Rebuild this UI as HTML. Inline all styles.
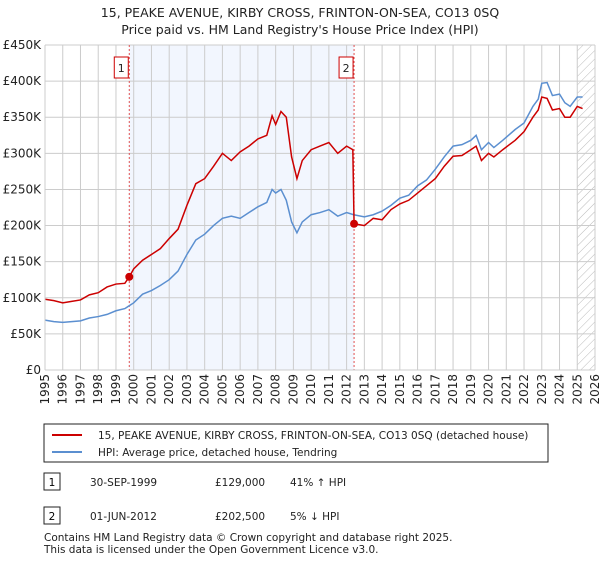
<!DOCTYPE html>
<html><head><meta charset="utf-8"><style>
body{margin:0;background:#fff;font-family:"DejaVu Sans","Liberation Sans",sans-serif;}
svg text{font-family:"DejaVu Sans","Liberation Sans",sans-serif;}
</style></head><body>
<svg id="c" width="600" height="560" xmlns="http://www.w3.org/2000/svg">
<defs><pattern id="hatch" width="6" height="6" patternUnits="userSpaceOnUse" patternTransform="rotate(45)"><line x1="0" y1="0" x2="0" y2="6" stroke="#bbb" stroke-width="1"/></pattern></defs>
<text x="300" y="17" text-anchor="middle" font-size="12.5" fill="#222">15, PEAKE AVENUE, KIRBY CROSS, FRINTON-ON-SEA, CO13 0SQ</text>
<text x="300" y="34" text-anchor="middle" font-size="12.5" fill="#222">Price paid vs. HM Land Registry's House Price Index (HPI)</text>
<g id="plot"></g>
<g>
<rect x="44" y="424" width="504" height="38" fill="#fff" stroke="#222"/>
<line x1="52" y1="435" x2="82" y2="435" stroke="#cc0000" stroke-width="2"/>
<text x="98" y="439" font-size="10.5" fill="#222">15, PEAKE AVENUE, KIRBY CROSS, FRINTON-ON-SEA, CO13 0SQ (detached house)</text>
<line x1="52" y1="452" x2="82" y2="452" stroke="#5b8fd0" stroke-width="2"/>
<text x="98" y="456" font-size="10.5" fill="#222">HPI: Average price, detached house, Tendring</text>
</g>
<g>
<rect x="44" y="473" width="16" height="17" fill="#fff" stroke="#222"/><text x="52" y="486" font-size="10.5" text-anchor="middle">1</text>
<text x="90" y="486" font-size="10.5" fill="#222">30-SEP-1999</text><text x="215" y="486" font-size="10.5" fill="#222">£129,000</text><text x="290" y="486" font-size="10.5" fill="#222">41% ↑ HPI</text>
<rect x="44" y="507" width="16" height="17" fill="#fff" stroke="#222"/><text x="52" y="520" font-size="10.5" text-anchor="middle">2</text>
<text x="90" y="520" font-size="10.5" fill="#222">01-JUN-2012</text><text x="215" y="520" font-size="10.5" fill="#222">£202,500</text><text x="290" y="520" font-size="10.5" fill="#222">5% ↓ HPI</text>
</g>
<text x="44" y="541" font-size="10.5" fill="#222">Contains HM Land Registry data © Crown copyright and database right 2025.</text>
<text x="44" y="553" font-size="10.5" fill="#222">This data is licensed under the Open Government Licence v3.0.</text>
</svg>
<script>
const yTicks=[0,50000,100000,150000,200000,250000,300000,350000,400000,450000];
const yTickLabels=["£0","£50K","£100K","£150K","£200K","£250K","£300K","£350K","£400K","£450K"];
const xYears=[1995,1996,1997,1998,1999,2000,2001,2002,2003,2004,2005,2006,2007,2008,2009,2010,2011,2012,2013,2014,2015,2016,2017,2018,2019,2020,2021,2022,2023,2024,2025,2026];
const hpiT=[1995,1995.5,1996,1996.5,1997,1997.5,1998,1998.5,1999,1999.5,2000,2000.5,2001,2001.5,2002,2002.5,2003,2003.5,2004,2004.5,2005,2005.5,2006,2006.5,2007,2007.5,2007.8,2008,2008.3,2008.6,2008.9,2009.2,2009.5,2010,2010.5,2011,2011.5,2012,2012.4,2013,2013.5,2014,2014.5,2015,2015.5,2016,2016.5,2017,2017.5,2018,2018.5,2019,2019.3,2019.6,2020,2020.3,2020.8,2021.5,2022,2022.5,2022.8,2023,2023.3,2023.6,2024,2024.3,2024.6,2025,2025.3];
const hpiV=[69,67,66,67,68,72,74,77,82,85,93,105,110,117,125,137,160,180,188,200,210,213,210,218,226,232,250,245,250,235,205,190,205,215,218,222,213,218,215,212,215,220,228,238,242,255,263,278,295,310,312,318,325,305,315,308,318,333,342,365,375,397,398,380,382,370,365,378,378];
const priceT=[1995,1995.5,1996,1996.5,1997,1997.5,1998,1998.5,1999,1999.5,1999.75,2000,2000.5,2001,2001.5,2002,2002.5,2003,2003.5,2004,2004.5,2005,2005.5,2006,2006.5,2007,2007.5,2007.8,2008,2008.3,2008.6,2008.9,2009.2,2009.5,2010,2010.5,2011,2011.5,2012,2012.35,2012.42,2013,2013.5,2014,2014.5,2015,2015.5,2016,2016.5,2017,2017.5,2018,2018.5,2019,2019.3,2019.6,2020,2020.3,2020.8,2021.5,2022,2022.5,2022.8,2023,2023.3,2023.6,2024,2024.3,2024.6,2025,2025.3];
const priceV=[98,96,93,95,97,104,107,115,119,120,129,140,152,160,168,182,195,228,258,265,282,300,290,302,310,320,325,352,340,358,350,295,265,290,305,310,315,300,310,305,202.5,200,210,208,222,230,235,245,255,265,282,296,297,305,310,290,300,295,305,318,330,350,360,378,376,360,362,350,350,365,362];
const saleT=[1999.75,2012.42];
const saleV=[129000,202500];
const saleLabels=["1","2"];

const L=45,R=595,T=45,B=370,x0=1995,x1=2026,yMax=450000;
const X=t=>L+(t-x0)/(x1-x0)*(R-L);
const Y=v=>B-v/yMax*(B-T);
const NS="http://www.w3.org/2000/svg";
const g=document.getElementById('plot');
function mk(tag,attrs,parent){const e=document.createElementNS(NS,tag);for(const k in attrs)e.setAttribute(k,attrs[k]);(parent||g).appendChild(e);return e;}
let e;
e=mk('rect',{x:X(saleT[0]),y:T,width:X(saleT[1])-X(saleT[0]),height:B-T,fill:'#f2f6fe'});


e=mk('rect',{x:X(2025),y:T,width:R-X(2025),height:B-T,fill:'url(#hatch)'});


xYears.forEach(yr=>{
 e=mk('line',{x1:X(yr),x2:X(yr),y1:T,y2:B,stroke:'#ccc','stroke-width':1});
 
 
 e=mk('text',{x:0,y:0,'font-size':12,fill:'#222','text-anchor':'end',transform:`translate(${X(yr)+4},${B+4}) rotate(-90)`});
 e.textContent=yr;
 
 
});
yTicks.forEach((v,i)=>{
 e=mk('line',{x1:L,x2:R,y1:Y(v),y2:Y(v),stroke:'#ccc','stroke-width':1});
 
 
 e=mk('text',{x:L-4,y:Y(v)+4,'font-size':12,fill:'#222','text-anchor':'end'});
 e.textContent=yTickLabels[i];
 
 
});
saleT.forEach((t,i)=>{
 e=mk('line',{x1:X(t),x2:X(t),y1:T,y2:B,stroke:'#e05050','stroke-width':1,'stroke-dasharray':'2,2'});
 
 
 e=mk('rect',{x:X(t)-15,y:T+12,width:14,height:21,fill:'#fff',stroke:'#cc0000'});
 
 
 e=mk('text',{x:X(t)-8,y:T+27,'font-size':11,'text-anchor':'middle',fill:'#222'});
 e.textContent=saleLabels[i];
 
 
});
e=mk('polyline',{points:hpiT.map((t,i)=>X(t)+','+Y(hpiV[i]*1000)).join(' '),fill:'none',stroke:'#5b8fd0','stroke-width':1.5});


e=mk('polyline',{points:priceT.map((t,i)=>X(t)+','+Y(priceV[i]*1000)).join(' '),fill:'none',stroke:'#cc0000','stroke-width':1.5});


saleT.forEach((t,i)=>{
 e=mk('circle',{cx:X(t),cy:Y(saleV[i]),r:4,fill:'#cc0000'});
 
 
});
e=mk('line',{x1:L,x2:L,y1:T,y2:B,stroke:'#ccc'});


e=mk('line',{x1:L,x2:R,y1:B,y2:B,stroke:'#ccc'});


</script>
</body></html>
